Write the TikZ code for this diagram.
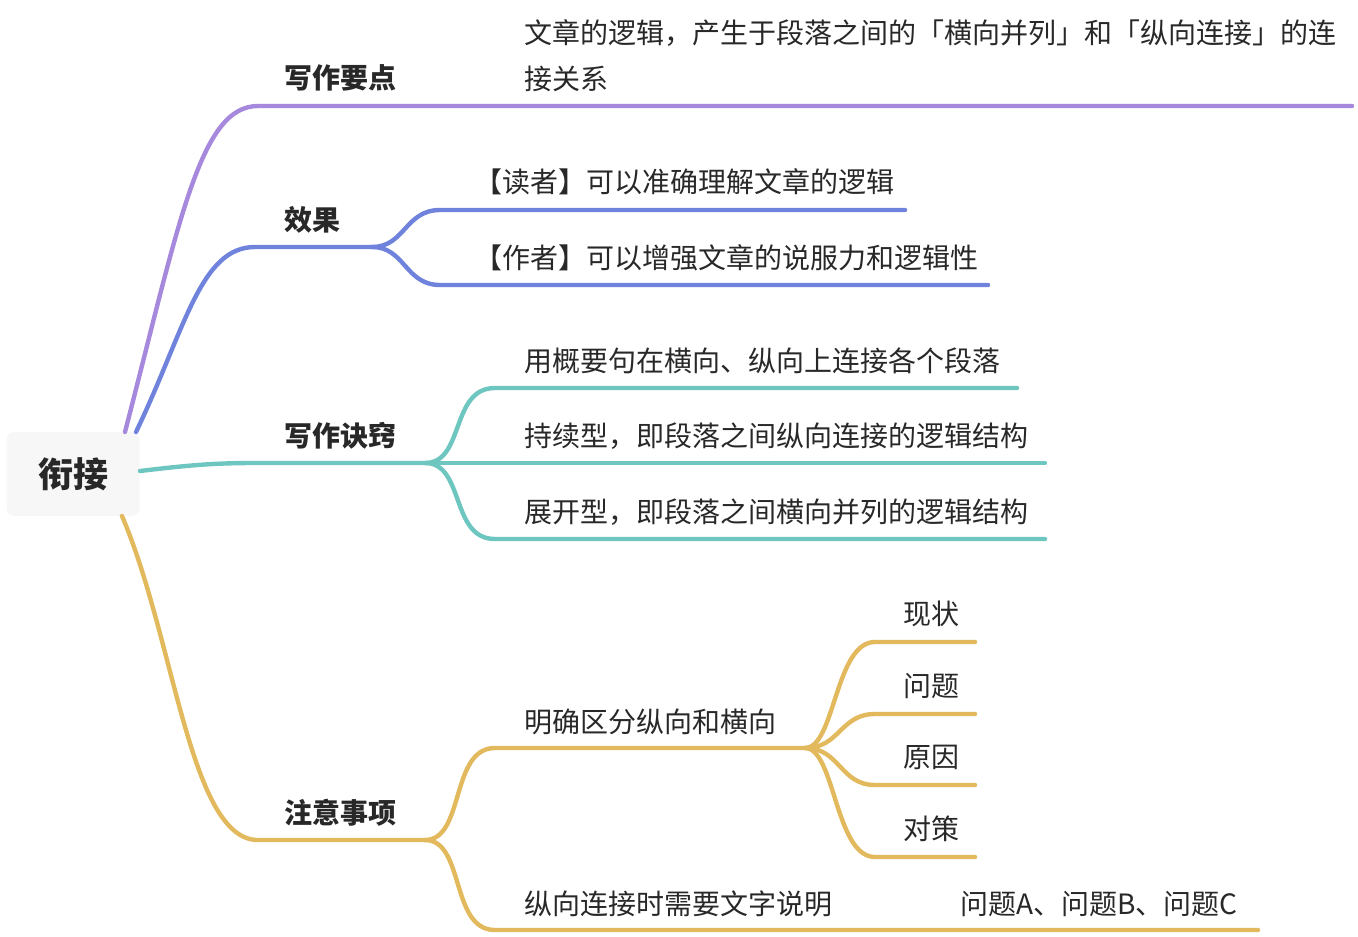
\documentclass[tikz,border=0pt]{standalone}
\usepackage{fontspec}
\setmainfont{Noto Sans CJK SC}
\definecolor{cpurple}{RGB}{166,137,221}
\definecolor{cblue}{RGB}{112,131,220}
\definecolor{cteal}{RGB}{110,198,192}
\definecolor{cgold}{RGB}{226,185,92}
\definecolor{ctext}{RGB}{40,40,40}
\definecolor{croot}{RGB}{247,247,247}
\tikzset{
  br/.style={line width=2.2pt, line cap=round},
  txt/.style={anchor=west, inner sep=0pt, text=ctext, font=\fontsize{14pt}{23pt}\selectfont},
  lbl/.style={txt, font=\fontsize{14pt}{23pt}\selectfont\bfseries},
}
\begin{document}
\begin{tikzpicture}[x=0.5pt,y=-0.5pt]
\useasboundingbox (0,0) rectangle (1358,936);
% root
\node[fill=croot, rounded corners=4pt, minimum width=66.5pt, minimum height=42pt, inner sep=0pt, text=ctext, font=\fontsize{17.5pt}{20pt}\selectfont\bfseries] (root) at (73,474) {衔接};

% coordinates
\coordinate (r1) at (125,432);
\coordinate (r2) at (136,432);
\coordinate (r3) at (140,471);
\coordinate (r4) at (122,516);

% ---- branch 1 purple
\coordinate (p1) at (258,106);
\coordinate (p2) at (1352,106);
\draw[br, cpurple] (r1) .. controls (180,220) and (200,106) .. (p1) -- (p2);
\node[lbl] (l1) at (284,78) {写作要点};
\node[txt, align=left] (t1) at (524,56) {文章的逻辑，产生于段落之间的「横向并列」和「纵向连接」的连\\接关系};

% ---- branch 2 blue
\coordinate (b1) at (255,247);
\coordinate (bj) at (372,247);
\coordinate (b2a) at (440,210);
\coordinate (b2b) at (905,210);
\coordinate (b3a) at (440,285);
\coordinate (b3b) at (988,285);
\draw[br, cblue] (r2) .. controls (185,330) and (200,247) .. (b1) -- (bj);
\draw[br, cblue] (bj) .. controls (405,247) and (405,210) .. (b2a) -- (b2b);
\draw[br, cblue] (bj) .. controls (405,247) and (405,285) .. (b3a) -- (b3b);
\node[lbl] (l2) at (284,220) {效果};
\node[txt] (t2a) at (474,182) {【读者】可以准确理解文章的逻辑};
\node[txt] (t2b) at (474,258) {【作者】可以增强文章的说服力和逻辑性};

% ---- branch 3 teal
\coordinate (c1) at (255,463);
\coordinate (cj) at (425,463);
\coordinate (c2a) at (495,388);
\coordinate (c2b) at (1017,388);
\coordinate (c3b) at (1045,463);
\coordinate (c4a) at (495,539);
\coordinate (c4b) at (1045,539);
\draw[br, cteal] (r3) .. controls (190,465) and (215,463) .. (c1) -- (cj);
\draw[br, cteal] (cj) .. controls (465,463) and (450,388) .. (c2a) -- (c2b);
\draw[br, cteal] (cj) -- (c3b);
\draw[br, cteal] (cj) .. controls (465,463) and (450,539) .. (c4a) -- (c4b);
\node[lbl] (l3) at (284,436) {写作诀窍};
\node[txt] (t3a) at (524,361) {用概要句在横向、纵向上连接各个段落};
\node[txt] (t3b) at (524,436) {持续型，即段落之间纵向连接的逻辑结构};
\node[txt] (t3c) at (524,512) {展开型，即段落之间横向并列的逻辑结构};

% ---- branch 4 gold
\coordinate (d1) at (258,840);
\coordinate (dj) at (425,840);
\coordinate (d2a) at (495,748);
\coordinate (dk) at (805,748);
\coordinate (d3a) at (495,930);
\coordinate (d3m) at (935,930);
\coordinate (d3b) at (1258,930);
\draw[br, cgold] (r4) .. controls (175,640) and (190,840) .. (d1) -- (dj);
\draw[br, cgold] (dj) .. controls (465,840) and (450,748) .. (d2a) -- (dk);
\draw[br, cgold] (dj) .. controls (465,840) and (450,930) .. (d3a) -- (d3m) -- (d3b);
\node[lbl] (l4) at (284,813) {注意事项};
\node[txt] (t4a) at (524,722) {明确区分纵向和横向};
\node[txt] (t4b) at (524,904) {纵向连接时需要文字说明};
\node[txt] (t4c) at (960,904) {问题A、问题B、问题C};

% sub-branches
\coordinate (e1a) at (875,642);
\coordinate (e1b) at (975,642);
\coordinate (e2a) at (875,714);
\coordinate (e2b) at (975,714);
\coordinate (e3a) at (875,785);
\coordinate (e3b) at (975,785);
\coordinate (e4a) at (875,857);
\coordinate (e4b) at (975,857);
\draw[br, cgold] (dk) .. controls (835,748) and (835,642) .. (e1a) -- (e1b);
\draw[br, cgold] (dk) .. controls (840,748) and (840,714) .. (e2a) -- (e2b);
\draw[br, cgold] (dk) .. controls (840,748) and (840,785) .. (e3a) -- (e3b);
\draw[br, cgold] (dk) .. controls (835,748) and (835,857) .. (e4a) -- (e4b);
\node[txt] (s1) at (903,614) {现状};
\node[txt] (s2) at (903,686) {问题};
\node[txt] (s3) at (903,757) {原因};
\node[txt] (s4) at (903,829) {对策};
\end{tikzpicture}
\end{document}
